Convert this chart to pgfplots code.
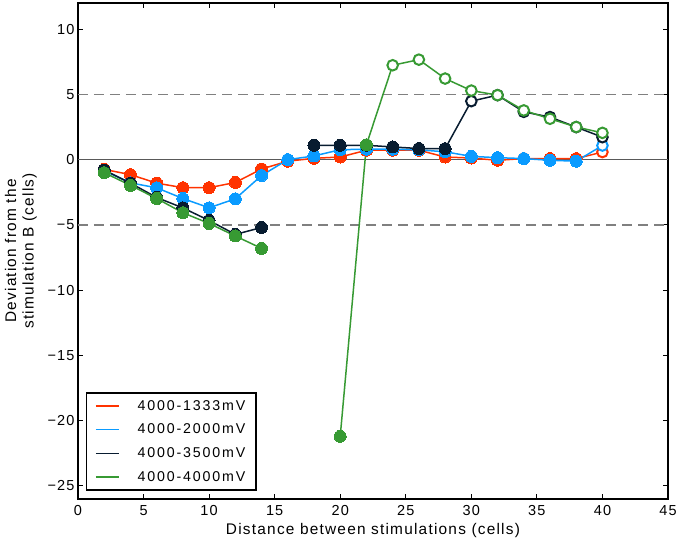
\documentclass[border=0pt]{standalone}
\usepackage{fontspec}
\setmainfont{Liberation Sans}
\newfontfamily\tickfont[LetterSpace=8]{Liberation Sans}
\newfontfamily\legfont[LetterSpace=13]{Liberation Sans}
\usepackage{pgfplots}
\pgfplotsset{compat=1.18}
\definecolor{cred}{HTML}{FF3300}
\definecolor{cblue}{HTML}{0A9BFF}
\definecolor{cnavy}{HTML}{081C30}
\definecolor{cgreen}{HTML}{379A33}
\begin{document}
\begin{tikzpicture}
\begin{axis}[
  at={(0pt,0pt)}, anchor=south west,
  scale only axis, width=590pt, height=496pt,
  xmin=0, xmax=45, ymin=-26, ymax=12,
  xtick={0,5,...,45}, ytick={-25,-20,...,10},
  yticklabels={−25,−20,−15,−10,−5,0,5,10},
  /pgf/number format/assume math mode=true,
  tick align=inside, major tick length=5pt,
  tick style={black, line width=1pt},
  axis line style={line width=1.6pt},
  ticklabel style={font=\tickfont\fontsize{14.5}{17}\selectfont},
  xticklabel style={yshift=-3pt},
  xlabel={Distance between stimulations (cells)},
  xlabel style={font=\tickfont\fontsize{15.4}{18}\selectfont, at={(axis description cs:0.5,-0.0484)}, anchor=north, inner sep=0pt},
  ylabel={Deviation from the\\stimulation B (cells)},
  ylabel style={font=\tickfont\fontsize{15.4}{17.5}\selectfont, align=center, at={(axis description cs:-0.0695,0.5)}, anchor=south, inner sep=0pt},
  unbounded coords=jump,
  legend style={at={(0,0)}, anchor=south west, xshift=8pt, yshift=8pt,
    draw=black, line width=1.5pt, font=\legfont\fontsize{14.2}{16}\selectfont,
    inner xsep=8.5pt, inner ysep=5.6pt, row sep=8.2pt, column sep=16pt,
    nodes={inner sep=2pt}},
  legend cell align=left,
  legend image code/.code={\draw[#1, line width=1.4pt] (0pt,0pt) -- (23pt,0pt);},
  every axis plot/.append style={line width=1.5pt},
]
\addplot[forget plot, color=black!65, line width=1.2pt] coordinates {(0,0) (45,0)};
\addplot[forget plot, color=black!50, dash pattern=on 10pt off 6pt] coordinates {(0,5) (45,5)};
\addplot[forget plot, color=black!50, dash pattern=on 10pt off 6pt] coordinates {(0,-5) (45,-5)};

% red 4000-1333
\addplot[cred, mark=none] coordinates {(2,-0.75)(4,-1.15)(6,-1.8)(8,-2.15)(10,-2.15)(12,-1.75)(14,-0.72)(16,-0.12)(18,0.1)(20,0.2)(22,0.72)(24,0.72)(26,0.72)(28,0.2)(30,0.12)(32,-0.05)(34,0.08)(36,0.08)(38,0.08)(40,0.58)};
\addlegendentry{4000-1333mV}
\addplot[forget plot, only marks, mark=*, mark size=6pt, mark options={fill=cred, draw=cred, line width=0pt}] coordinates {(2,-0.75)(4,-1.15)(6,-1.8)(8,-2.15)(10,-2.15)(12,-1.75)(14,-0.72)(16,-0.12)(18,0.1)(20,0.2)(22,0.72)(24,0.72)(26,0.72)(28,0.2)(30,0.12)(32,-0.05)(34,0.08)(36,0.08)(38,0.08)};
\addplot[forget plot, only marks, mark=*, mark size=5.3pt, mark options={fill=white, draw=cred, line width=2pt}] coordinates {(40,0.58)};

% blue 4000-2000
\addplot[cblue, mark=none] coordinates {(2,-0.85)(4,-1.78)(6,-2.16)(8,-2.98)(10,-3.69)(12,-3.0)(14,-1.22)(16,0)(18,0.28)(20,0.76)(22,0.8)(24,0.8)(26,0.75)(28,0.6)(30,0.25)(32,0.15)(34,0.08)(36,-0.05)(38,-0.12)(40,1.08)};
\addlegendentry{4000-2000mV}
\addplot[forget plot, only marks, mark=*, mark size=6pt, mark options={fill=cblue, draw=cblue, line width=0pt}] coordinates {(2,-0.85)(4,-1.78)(6,-2.16)(8,-2.98)(10,-3.69)(12,-3.0)(14,-1.22)(16,0)(18,0.28)(20,0.76)(22,0.8)(24,0.8)(26,0.75)(28,0.6)(30,0.25)(32,0.15)(34,0.08)(36,-0.05)(38,-0.12)};
\addplot[forget plot, only marks, mark=*, mark size=5.3pt, mark options={fill=white, draw=cblue, line width=2pt}] coordinates {(40,1.08)};

% navy 4000-3500
\addplot[cnavy, mark=none] coordinates {(2,-0.8)(4,-1.8)(6,-2.9)(8,-3.7)(10,-4.66)(12,-5.73)(14,-5.2)(16,nan)(18,1.1)(20,1.1)(22,1.1)(24,0.97)(26,0.85)(28,0.84)(30,4.48)(32,4.94)(34,3.66)(36,3.26)(38,2.49)(40,1.72)};
\addlegendentry{4000-3500mV}
\addplot[forget plot, only marks, mark=*, mark size=6pt, mark options={fill=cnavy, draw=cnavy, line width=0pt}] coordinates {(2,-0.8)(4,-1.8)(6,-2.9)(8,-3.7)(10,-4.66)(12,-5.73)(14,-5.2)(18,1.1)(20,1.1)(22,1.1)(24,0.97)(26,0.85)(28,0.84)};
\addplot[forget plot, only marks, mark=*, mark size=5.3pt, mark options={fill=white, draw=cnavy, line width=2pt}] coordinates {(30,4.48)(32,4.94)(34,3.66)(36,3.26)(38,2.49)(40,1.72)};

% green 4000-4000
\addplot[cgreen, mark=none] coordinates {(2,-1.0)(4,-1.97)(6,-2.98)(8,-4.07)(10,-4.89)(12,-5.85)(14,-6.8)(16,nan)(20,-21.2)(22,1.14)(24,7.23)(26,7.66)(28,6.21)(30,5.29)(32,4.94)(34,3.77)(36,3.13)(38,2.5)(40,2.05)};
\addlegendentry{4000-4000mV}
\addplot[forget plot, only marks, mark=*, mark size=6pt, mark options={fill=cgreen, draw=cgreen, line width=0pt}] coordinates {(2,-1.0)(4,-1.97)(6,-2.98)(8,-4.07)(10,-4.89)(12,-5.85)(14,-6.8)(20,-21.2)(22,1.14)};
\addplot[forget plot, only marks, mark=*, mark size=5.3pt, mark options={fill=white, draw=cgreen, line width=2pt}] coordinates {(24,7.23)(26,7.66)(28,6.21)(30,5.29)(32,4.94)(34,3.77)(36,3.13)(38,2.5)(40,2.05)};
\end{axis}
\pgfresetboundingbox
\path[use as bounding box] (-78pt,-46pt) rectangle (602pt,499pt);
\end{tikzpicture}
\end{document}
